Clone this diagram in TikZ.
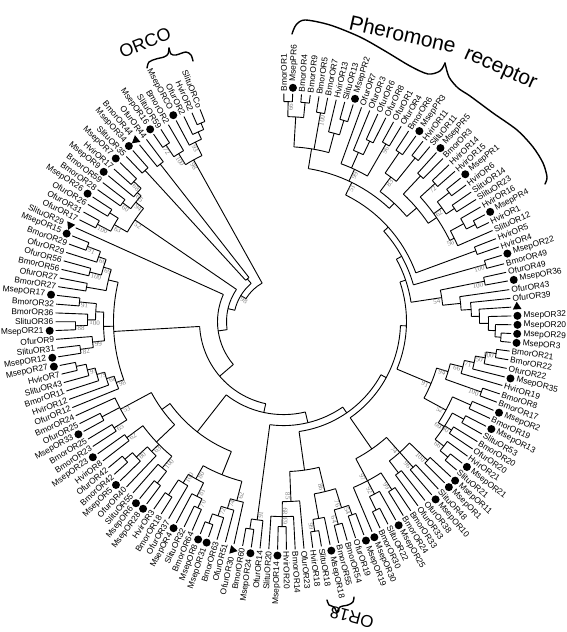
\documentclass[tikz,border=0pt]{standalone}
\usepackage{fontspec}
\setmainfont{Liberation Sans}
\newfontfamily\bsfont{Liberation Serif}
\usetikzlibrary{shapes.geometric}
\newcount\lfc
\def\aZ{89.9}
\def\dA{2.212}
\def\Rt{228}
\def\pRad{44}
\def\rec{\ifx\fpos\relax\edef\fpos{\retpos}\fi\edef\lpos{\retpos}}
\long\def\Lf{\global\advance\lfc by 1\relax\xdef\retpos{\the\lfc}%
  \pgfmathsetmacro\tLf{\aZ-(\retpos-1)*\dA}%
  \draw[br] (\tLf:\pRad pt) -- (\tLf:\Rt pt);\rec}
\long\def\Cl#1#2{\begingroup\let\fpos\relax\let\oRad\pRad\def\pRad{#1}#2%
  \pgfmathsetmacro\mpos{(\fpos+\lpos)/2}%
  \pgfmathsetmacro\tA{\aZ-(\fpos-1)*\dA}%
  \pgfmathsetmacro\tB{\aZ-(\lpos-1)*\dA}%
  \pgfmathsetmacro\tM{\aZ-(\mpos-1)*\dA}%
  \draw[br] (\tA:#1pt) arc[start angle=\tA, end angle=\tB, radius=#1pt];%
  \draw[br] (\tM:\oRad pt) -- (\tM:#1pt);%
  \xdef\retpos{\mpos}\endgroup\rec}
\long\def\Cb#1#2#3{\begingroup\let\fpos\relax\let\oRad\pRad\def\pRad{#1}#3%
  \pgfmathsetmacro\mpos{(\fpos+\lpos)/2}%
  \pgfmathsetmacro\tA{\aZ-(\fpos-1)*\dA}%
  \pgfmathsetmacro\tB{\aZ-(\lpos-1)*\dA}%
  \pgfmathsetmacro\tM{\aZ-(\mpos-1)*\dA}%
  \draw[br] (\tA:#1pt) arc[start angle=\tA, end angle=\tB, radius=#1pt];%
  \draw[br] (\tM:\oRad pt) -- (\tM:#1pt);%
  \pgfmathsetmacro\cs{cos(\tM)}\pgfmathsetmacro\rB{#1-1.5}%
  \ifdim\cs pt>0pt
    \node[bs,anchor=north east,rotate=\tM] at (\tM:\rB pt) {#2};%
  \else
    \pgfmathsetmacro\rot{\tM+180}%
    \node[bs,anchor=north west,rotate=\rot] at (\tM:\rB pt) {#2};%
  \fi
  \xdef\retpos{\mpos}\endgroup\rec}
\begin{document}
\begin{tikzpicture}[x=1pt,y=1pt,
  br/.style={line width=0.9pt},
  lbl/.style={font=\fontsize{8.4}{9}\selectfont, inner sep=0pt},
  bs/.style={font=\bsfont\fontsize{7}{7}\selectfont, text=black!50, inner sep=0.3pt},
  dotm/.style={circle, fill=black, inner sep=0pt, minimum size=8pt},
  trim/.style={regular polygon, regular polygon sides=3, fill=black, inner sep=0pt, minimum size=10pt},
  brc/.style={line width=1.4pt, line cap=round, line join=round},
  captxt/.style={inner sep=0pt}]
\useasboundingbox (0,0) rectangle (567,632);
\begin{scope}[shift={(283.5,310.4)}]
\Cl{44}{%
\Cb{50}{98}{%
\Cl{57}{%
\Cl{66}{%
\Cl{84}{%
\Cl{93}{%
\Cl{104}{%
\Cl{111}{%
\Cl{117}{%
\Cl{123}{%
\Cl{129}{%
\Cl{135}{%
\Cl{141}{%
 \Cb{155}{51}{%
  \Cl{175}{\Cl{205}{\Cb{220}{66}{\Lf\Lf}\Cl{220}{\Lf\Lf}}\Cb{212}{100}{\Lf\Lf}\Cl{195}{\Lf\Cl{210}{\Lf\Lf}}}%
  \Cb{168}{99}{\Lf\Cl{185}{\Lf\Cl{200}{\Lf\Lf}}\Cb{205}{96}{\Lf\Lf}}%
  \Cl{162}{\Cb{180}{83}{\Cl{205}{\Lf\Lf}\Cl{210}{\Lf\Lf}}\Cl{175}{\Cl{200}{\Lf\Lf}\Cl{185}{\Cb{205}{72}{\Lf\Lf}\Cb{195}{62}{\Cl{210}{\Lf\Lf}\Cl{205}{\Lf\Lf}}\Cb{190}{56}{\Cl{205}{\Lf\Cl{215}{\Lf\Lf}}\Lf}}}}}%
 \Cl{205}{\Lf\Lf}}%
 \Cb{210}{100}{\Lf\Lf}}%
 \Cb{160}{54}{\Cb{205}{100}{\Lf\Lf}\Cl{178}{\Lf\Cl{188}{\Lf\Cl{196}{\Lf\Cl{205}{\Lf\Cl{212}{\Lf\Cl{218}{\Lf\Lf}}}}}}}}%
 \Cb{160}{91}{%
  \Cb{172}{94}{\Cb{185}{66}{\Cb{195}{71}{\Cb{205}{50}{\Cb{215}{100}{\Lf\Lf}\Lf}\Lf}\Lf}\Cb{210}{100}{\Lf\Lf}}%
  \Cb{185}{52}{\Cl{205}{\Lf\Lf}\Cb{192}{60}{\Cl{205}{\Lf\Lf}\Cb{200}{100}{\Lf\Lf}\Cb{203}{66}{\Lf\Cl{213}{\Lf\Lf}}}}}}%
 \Cl{155}{\Cb{175}{74}{\Cb{200}{100}{\Lf\Lf}\Cb{195}{96}{\Lf\Lf}\Cl{190}{\Lf\Lf}}\Cb{180}{97}{\Cb{200}{99}{\Lf\Lf}\Cb{195}{92}{\Lf\Cl{210}{\Lf\Lf}}\Lf}}}%
 \Cl{150}{\Cb{175}{86}{\Cb{195}{76}{\Cb{205}{54}{\Lf\Lf}\Cb{210}{64}{\Lf\Lf}}\Cl{200}{\Lf\Cb{212}{99}{\Lf\Lf}}}\Cb{180}{85}{\Lf\Cb{195}{89}{\Lf\Cb{205}{63}{\Lf\Lf}\Lf}}}}%
 \Cb{200}{91}{\Lf\Cl{210}{\Lf\Lf}}}%
 \Cl{140}{%
  \Cl{165}{\Cb{185}{62}{\Lf\Cb{195}{74}{\Lf\Cb{205}{72}{\Lf\Cl{215}{\Lf\Lf}}}}\Cb{180}{80}{\Cb{195}{81}{\Cb{205}{70}{\Lf\Lf}\Lf}\Cb{190}{100}{\Lf\Cl{208}{\Lf\Lf}}}}%
  \Cl{150}{\Cl{175}{\Cb{190}{100}{\Cl{205}{\Lf\Lf}\Lf}\Cb{185}{63}{\Lf\Cb{200}{80}{\Lf\Cl{210}{\Lf\Lf}}}\Cb{195}{62}{\Lf\Lf}}\Cb{185}{53}{\Cb{200}{65}{\Lf\Lf}\Cl{205}{\Lf\Lf}\Lf}}}}%
 \Cl{170}{%
  \Cb{178}{98}{\Lf\Cb{186}{68}{\Lf\Cb{194}{79}{\Lf\Cb{202}{91}{\Lf\Cl{212}{\Lf\Lf}}}}}%
  \Cl{180}{\Cb{192}{99}{\Cb{205}{82}{\Lf\Lf}\Lf}\Cl{188}{\Cb{196}{100}{\Cb{208}{88}{\Lf\Lf}\Lf}\Cb{205}{91}{\Lf\Lf}}}%
  \Cl{180}{\Cl{200}{\Lf\Lf}\Cb{188}{69}{\Cb{200}{100}{\Lf\Lf}\Cb{196}{60}{\Lf\Cb{210}{91}{\Lf\Lf}}}}}}%
 \Lf}%
 \Cb{180}{52}{\Cb{195}{63}{\Cb{210}{100}{\Lf\Lf}\Cl{205}{\Lf\Lf}}\Cb{190}{94}{\Cb{200}{60}{\Lf\Lf}\Cb{195}{65}{\Lf\Cb{205}{68}{\Lf\Lf}}}}}%
 \Cl{56}{\Cl{205}{\Lf\Lf}\Cl{200}{\Lf\Lf}}}%
 \Cb{185}{98}{\Cb{198}{100}{\Cb{212}{72}{\Lf\Lf}\Lf}\Cb{200}{93}{\Lf\Cl{208}{\Lf\Cl{215}{\Lf\Lf}}}}}
\foreach \m/\nm [count=\i] in {n/BmorOR1,d/MsepPR6,n/BmorOR4,n/BmorOR9,n/BmorOR5,n/BmorOR7,n/HvirOR13,n/SlituOR13,d/MsepPR2,n/OfurOR7,
 n/OfurOR3,n/OfurOR6,n/OfurOR8,n/OfurOR1,n/OfurOR4,n/BmorOR6,d/MsepPR3,n/HvirOR11,n/SlituOR11,d/MsepPR5,
 n/BmorOR3,n/HvirOR14,n/HvirOR15,d/MsepPR1,n/HvirOR6,n/SlituOR14,n/SlituOR23,n/HvirOR16,d/MsepPR4,n/HvirOR1,
 n/SlituOR12,n/HvirOR5,n/HvirOR4,d/MsepOR22,n/BmorOR49,n/OfurOR49,d/MsepOR36,n/OfurOR43,n/OfurOR39,t/,
 d/MsepOR32,d/MsepOR20,d/MsepOR29,d/MsepOR3,n/BmorOR21,n/BmorOR22,n/OfurOR22,d/MsepOR35,n/HvirOR19,n/BmorOR8,
 n/BmorOR17,d/MsepOR2,n/BmorOR19,d/MsepOR13,n/SlituOR53,n/BmorOR20,n/OfurOR20,n/HvirOR21,d/MsepOR21,n/SlituOR21,
 d/MsepOR11,d/MsepOR1,n/SlituOR48,d/MsepOR10,n/OfurOR38,n/OfurOR33,n/BmorOR33,n/BmorOR24,d/MsepOR25,n/SlituOR22,
 n/BmorOR30,d/MsepOR30,d/MsepOR19,n/OfurOR19,n/BmorOR54,n/BmorOR55,d/MsepOR18,n/SlituOR18,n/HvirOR18,n/OfurOR23,
 n/BmorOR14,n/HvirOR20,d/MsepOR14,n/SlituOR20,n/OfurOR14,d/MsepOR24,n/BmorOR60,t/OfurOR30,n/OfurOR51,n/BmorOR63,
 d/MsepOR31,d/MsepOR8,n/BmorOR64,n/SlituOR32,d/MsepOR4,n/OfurOR37,n/BmorOR18,n/HvirOR3,d/MsepOR28,d/MsepOR6,
 n/SlituOR55,n/OfurOR40,d/MsepOR5,n/BmorOR42,n/OfurOR42,n/HvirOR8,d/MsepOR23,n/BmorOR23,n/BmorOR25,d/MsepOR33,
 n/OfurOR25,n/BmorOR24,n/OfurOR12,n/HvirOR12,n/BmorOR11,n/SlituOR43,n/HvirOR7,d/MsepOR27,d/MsepOR12,n/SlituOR31,
 n/OfurOR9,d/MsepOR21,n/SlituOR36,n/BmorOR36,n/BmorOR32,d/MsepOR17,n/BmorOR27,n/OfurOR27,n/BmorOR56,n/OfurOR56,
 n/OfurOR29,n/BmorOR29,d/MsepOR15,t/SlituOR29,n/OfurOR17,n/OfurOR31,n/OfurOR26,d/MsepOR26,n/BmorOR28,n/BmorOR59,
 d/MsepOR9,n/HvirOR17,d/MsepOR7,n/SlituOR35,d/MsepOR34,t/BmorOR44,n/OfurOR44,d/MsepOR16,n/SlituOR59,n/BmorOR2,
 d/MsepORCO,n/OfurOR2,n/HvirOR2,n/SlituORCo}{%
  \pgfmathsetmacro\th{\aZ-(\i-1)*\dA}%
  \pgfmathsetmacro\cs{cos(\th)}%
  \def\rs{230}%
  \if d\m \node[dotm] at (\th:234pt) {}; \def\rs{240}\fi
  \if t\m \node[trim,rotate=\th] at (\th:234pt) {}; \def\rs{241}\fi
  \ifdim\cs pt>0pt
    \node[lbl,anchor=west,rotate=\th] at (\th:\rs pt) {\nm};
  \else
    \pgfmathsetmacro\thr{\th+180}%
    \node[lbl,anchor=east,rotate=\thr] at (\th:\rs pt) {\nm};
  \fi
}
\end{scope}
% Pheromone receptor brace
\draw[brc] plot[smooth] coordinates {(292,598) (296,607) (305,612) (330,607) (360,595) (385,581) (410,566) (428,558) (440,561) (445,569)};
\draw[brc] plot[smooth] coordinates {(445,569) (449,555) (458,544) (470,536) (493,519) (517,502) (533,485) (543,469) (547,455) (545,448)};
\node[captxt,anchor=base west,rotate=-13,font=\fontsize{21}{21}\selectfont] (pr1) at (348,603) {Pheromone};
\node[captxt,anchor=base west,rotate=-24,font=\fontsize{21}{21}\selectfont] (pr2) at (463,574) {receptor};
% ORCO brace
\draw[brc] plot[smooth] coordinates {(147,564) (149,570) (156,573) (164,575) (168,578) (169,584)};
\draw[brc] plot[smooth] coordinates {(169,584) (171,578) (176,577) (186,580) (191,577) (193,571)};
\node[captxt,rotate=22,font=\fontsize{18}{18}\selectfont] (orco) at (145,589) {ORCO};
% OR18 brace
\draw[brc] plot[smooth] coordinates {(327,32) (329,27) (334,25) (337,19)};
\draw[brc] plot[smooth] coordinates {(337,19) (340,25) (348,27) (353,30) (354,35)};
\node[captxt,rotate=165,font=\fontsize{17}{17}\selectfont] (or18) at (352,15) {OR18};
\end{tikzpicture}
\end{document}
